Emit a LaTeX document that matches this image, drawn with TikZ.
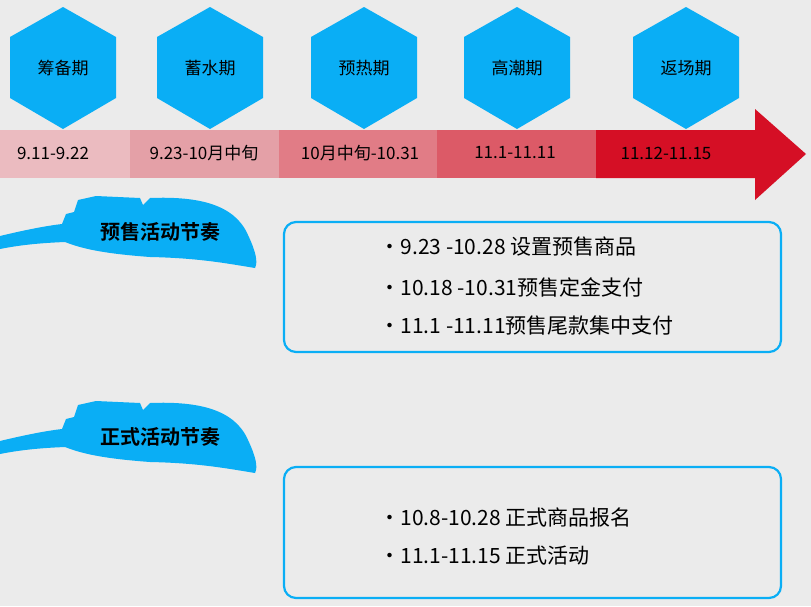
\documentclass[tikz,border=0pt]{standalone}
\usepackage{fontspec}
\setmainfont{Noto Sans CJK SC}
\newfontfamily\cjkb{Noto Sans CJK SC Bold}
\begin{document}
\begin{tikzpicture}[x=1pt,y=-1pt,
  hexa/.style={fill=hexblue},
  itembox/.style={draw=hexblue,line width=2.2pt,rounded corners=12pt},
  feather/.style={fill=hexblue},
  lbl/.style={font=\cjkb\fontsize{20}{24}\selectfont},
  item/.style={font=\fontsize{21}{25}\selectfont,anchor=west}]
\definecolor{hexblue}{HTML}{0AAEF5}
\definecolor{bgc}{HTML}{EBEBEB}
\definecolor{s1}{HTML}{EBBBC0}
\definecolor{s2}{HTML}{E4A0A7}
\definecolor{s3}{HTML}{E17C86}
\definecolor{s4}{HTML}{DC5A67}
\definecolor{s5}{HTML}{D50F25}
\fill[bgc] (0,0) rectangle (811,606);
\useasboundingbox (0,0) rectangle (811,606);
% hexagons
\foreach \cx/\t/\n in {63/筹备期/h1,210/蓄水期/h2,364/预热期/h3,517/高潮期/h4,686/返场期/h5}{
  \fill[hexa] (\cx,7) -- (\cx+53,37) -- (\cx+53,98) -- (\cx,129) -- (\cx-53,98) -- (\cx-53,37) -- cycle;
  \node[font=\fontsize{17}{20}\selectfont] (\n) at (\cx,68) {\t};
}
% bar
\fill[s1] (0,130) rectangle (130,178);
\fill[s2] (130,130) rectangle (279,178);
\fill[s3] (279,130) rectangle (437,178);
\fill[s4] (437,130) rectangle (596,178);
\fill[s5] (596,130) -- (755,130) -- (755,109) -- (806,154) -- (755,200) -- (755,178) -- (596,178) -- cycle;
\foreach \x/\t/\n in {53/9.11-9.22/d1,204/9.23-10月中旬/d2,360/10月中旬-10.31/d3,515/11.1-11.11/d4,666/11.12-11.15/d5}
  \node[font=\fontsize{17}{20}\selectfont] (\n) at (\x,153) {\t};
% feathers
\foreach \dy/\t/\n in {0/预售活动节奏/f1,205/正式活动节奏/f2}{
  \begin{scope}[yshift=-\dy]
  \fill[feather] (0,236) .. controls (25,230) and (45,226) .. (62,224)
    -- (66,214) -- (74,212) -- (78,200) -- (96,196) -- (140,198) -- (143,205) -- (150,198)
    .. controls (200,196) and (235,205) .. (248,235)
    .. controls (256,252) and (258,262) .. (255,268)
    .. controls (230,264) and (200,258) .. (150,257)
    .. controls (110,254) and (85,250) .. (65,242)
    .. controls (40,243) and (20,245) .. (0,249) -- cycle;
  \end{scope}
  \node[lbl] (\n) at (160,232+\dy) {\t};
}
% boxes
\draw[itembox] (284,222) rectangle (781,352);
\draw[itembox] (284,467) rectangle (781,598);
\node[item] (i1) at (376,247) {·9.23 -10.28 设置预售商品};
\node[item] (i2) at (376,287) {·10.18 -10.31预售定金支付};
\node[item] (i3) at (376,326) {·11.1 -11.11预售尾款集中支付};
\node[item] (i4) at (376,517) {·10.8-10.28 正式商品报名};
\node[item] (i5) at (376,556) {·11.1-11.15 正式活动};
\end{tikzpicture}
\end{document}
